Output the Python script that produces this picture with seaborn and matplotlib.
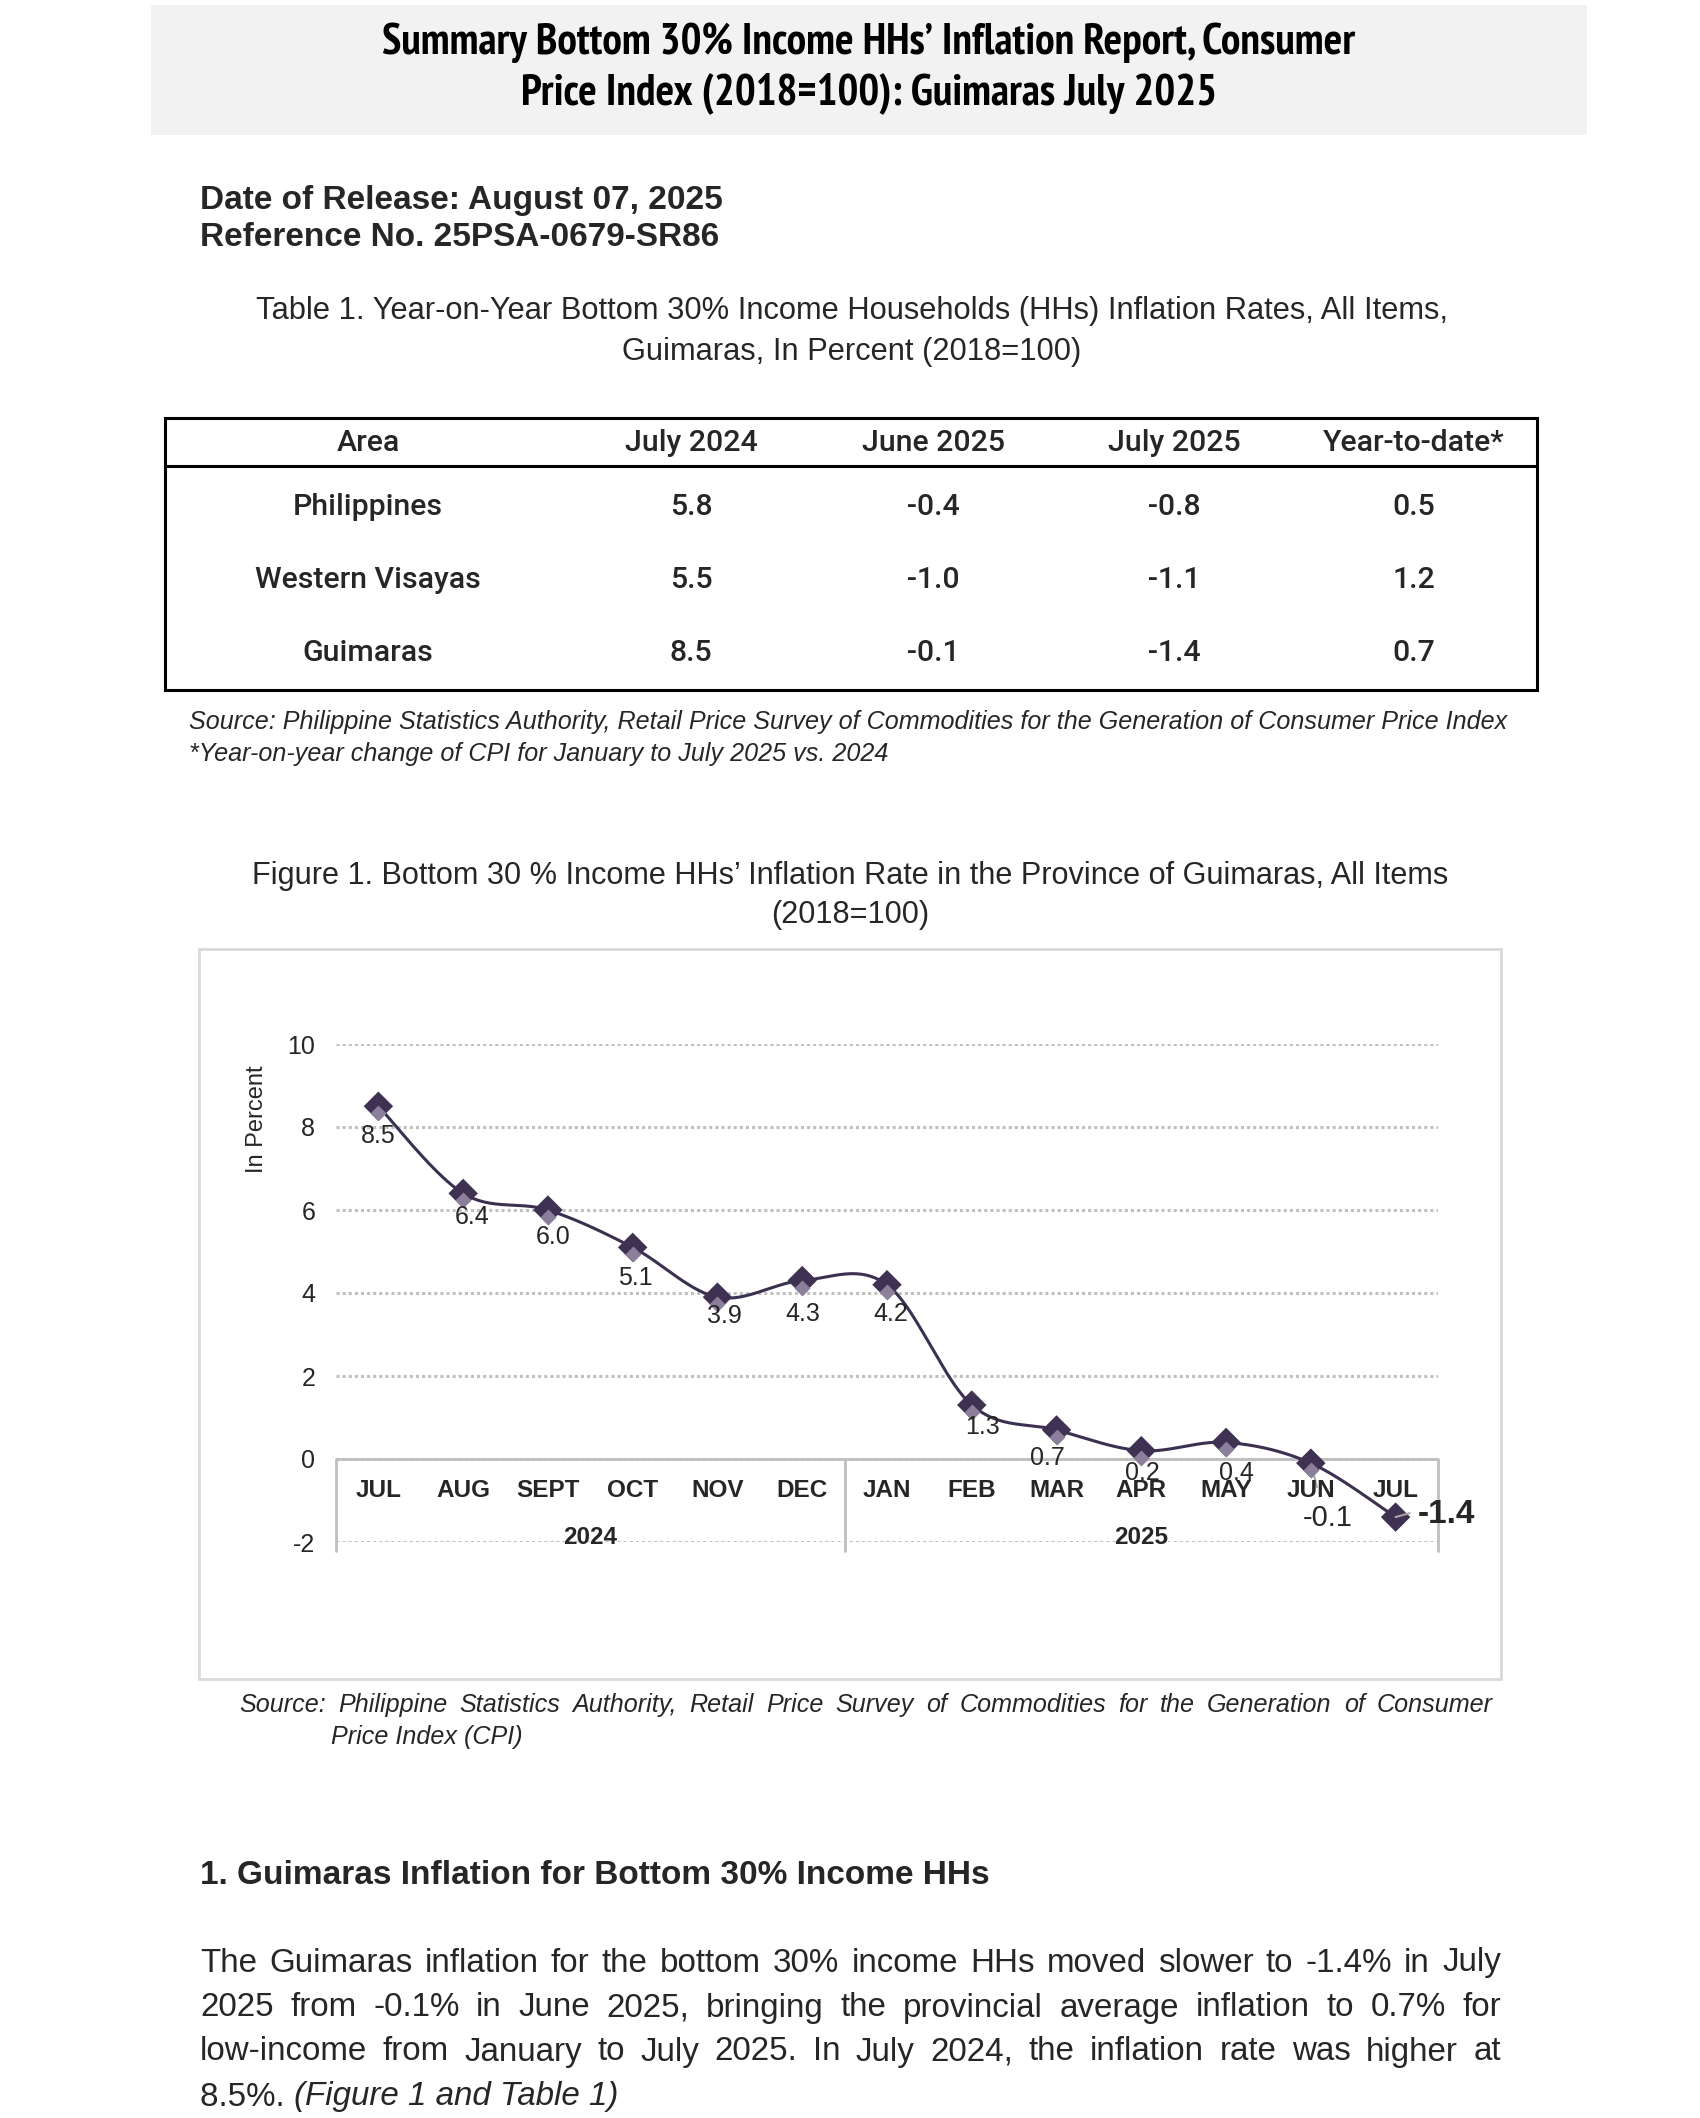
import matplotlib
matplotlib.use('Agg')
import matplotlib.pyplot as plt
from matplotlib import font_manager as fm
from matplotlib.patches import Rectangle
from matplotlib.lines import Line2D
from matplotlib.textpath import TextPath
from matplotlib.transforms import offset_copy
import seaborn as sns
import numpy as np
import pandas as pd

# ---- data ----
months = ["JUL", "AUG", "SEPT", "OCT", "NOV", "DEC",
          "JAN", "FEB", "MAR", "APR", "MAY", "JUN", "JUL"]
years = ["2024", "2025"]
months_per_year = [6, 7]
inflation = [8.5, 6.4, 6.0, 5.1, 3.9, 4.3, 4.2, 1.3, 0.7, 0.2, 0.4, -0.1, -1.4]

table_cols = ["Area", "July 2024", "June 2025", "July 2025", "Year-to-date*"]
table_areas = ["Philippines", "Western Visayas", "Guimaras"]
table_jul24 = ["5.8", "5.5", "8.5"]
table_jun25 = ["-0.4", "-1.0", "-0.1"]
table_jul25 = ["-0.8", "-1.1", "-1.4"]
table_ytd = ["0.5", "1.2", "0.7"]

title_lines = ["Summary Bottom 30% Income HHs\u2019 Inflation Report, Consumer",
               "Price Index (2018=100): Guimaras July 2025"]
table_caption = ["Table 1. Year-on-Year Bottom 30% Income Households (HHs) Inflation Rates, All Items,",
                 "Guimaras, In Percent (2018=100)"]
fig_caption = ["Figure 1. Bottom 30 % Income HHs\u2019 Inflation Rate in the Province of Guimaras, All Items",
               "(2018=100)"]
paragraph = ["The Guimaras inflation for the bottom 30% income HHs moved slower to -1.4% in July",
             "2025 from -0.1% in June 2025, bringing the provincial average inflation to 0.7% for",
             "low-income from January to July 2025. In July 2024, the inflation rate was higher at"]

sns.set_theme(style="white")
names = {f.name for f in fm.fontManager.ttflist}
BODY = "Liberation Sans" if "Liberation Sans" in names else "DejaVu Sans"
TABLE = "Roboto" if "Roboto" in names else BODY
plt.rcParams["font.family"] = [BODY, "DejaVu Sans"]


# narrow bold face for the title (Arial Narrow look), no monospace
def _w(f):
    w = f.weight
    if isinstance(w, str):
        w = fm.weight_dict.get(w, 400)
    return w


def _tw(s, prop):
    return TextPath((0, 0), s, prop=prop, size=20).get_extents().width


title_prop = fm.FontProperties(family=BODY, weight="bold")
title_cap = None
best = None
for f in fm.fontManager.ttflist:
    if "DejaVu" in f.name or "Mono" in f.name or _w(f) < 600 or f.style != "normal":
        continue
    if "Narrow" in f.name:
        rank = 0
    elif "Condensed" in f.name or str(f.stretch) in ("condensed", "semi-condensed", "extra-condensed"):
        rank = 1
    else:
        continue
    try:
        prop = fm.FontProperties(fname=f.fname)
        if abs(_tw("iiiiii", prop) - _tw("MMMMMM", prop)) < 1:
            continue
        ch = TextPath((0, 0), "H", prop=prop, size=20).get_extents().height
    except Exception:
        continue
    if best is None or rank < best[0]:
        best = (rank, f.fname, ch / 20)
if best is not None:
    title_prop = fm.FontProperties(fname=best[1])
    title_cap = best[2]

W, H = 1700, 2118
fig = plt.figure(figsize=(W / 100, H / 100), dpi=100)
fig.patch.set_facecolor("white")
renderer = fig.canvas.get_renderer()


def fx(x):
    return x / W


def fy(y):
    return 1 - y / H


def fit(text, target, **kw):
    t = fig.text(0, 0, text, fontsize=20, **kw)
    w = t.get_window_extent(renderer).width
    t.remove()
    return 20 * target / w


def justify(words, x0, x1, y, **kw):
    texts = [fig.text(0, fy(y), w, va="center", ha="left", **kw) for w in words]
    widths = [t.get_window_extent(renderer).width for t in texts]
    gap = (x1 - x0 - sum(widths)) / (len(words) - 1)
    x = x0
    for t, w in zip(texts, widths):
        t.set_x(fx(x))
        x += w + gap


# ---- title block ----
fig.add_artist(Rectangle((fx(151), fy(135)), (1587 - 151) / W, 130 / H,
                         transform=fig.transFigure, color="#f2f2f2", lw=0))
ts = fit(title_lines[0], 1098, fontproperties=title_prop)
if title_cap:
    ts = np.sqrt(ts * 27 / (100 / 72 * title_cap))
for line, y in zip(title_lines, [43, 93]):
    p = title_prop.copy()
    p.set_size(ts)
    fig.text(fx(869), fy(y), line, fontproperties=p,
             ha="center", va="center", color="black")

ds = fit("Date of Release: August 07, 2025", 522, weight="bold")
fig.text(fx(200), fy(200), "Date of Release: August 07, 2025", fontsize=ds,
         weight="bold", va="center")
fig.text(fx(200), fy(238), "Reference No. 25PSA-0679-SR86", fontsize=ds,
         weight="bold", va="center")

cs = fit(table_caption[0], 1188)
for line, y in zip(table_caption, [311, 352]):
    fig.text(fx(852), fy(y), line, fontsize=cs, ha="center", va="center")

# ---- table ----
fig.add_artist(Rectangle((fx(165), fy(690)), (1537 - 165) / W, (690 - 418) / H,
                         transform=fig.transFigure, fill=False, ec="black", lw=2.2))
fig.add_artist(Line2D([fx(165), fx(1537)], [fy(466), fy(466)],
                      transform=fig.transFigure, color="black", lw=2.2))
tfs = fit("Western Visayas", 226, family=TABLE, weight="medium")
col_x = [368, 691, 933, 1174, 1414]
for cx, head in zip(col_x, table_cols):
    fig.text(fx(cx), fy(443), head, fontsize=tfs, family=TABLE, weight="medium",
             ha="center", va="center")
cols = [table_areas, table_jul24, table_jun25, table_jul25, table_ytd]
for cx, col in zip(col_x, cols):
    for val, ry in zip(col, [507, 580, 653]):
        fig.text(fx(cx), fy(ry), val, fontsize=tfs, family=TABLE, weight="medium",
                 ha="center", va="center")

src1 = "Source: Philippine Statistics Authority, Retail Price Survey of Commodities for the Generation of Consumer Price Index"
ss = fit(src1, 1312, style="italic")
fig.text(fx(189), fy(722), src1, fontsize=ss, style="italic", va="center")
fig.text(fx(189), fy(754), "*Year-on-year change of CPI for January to July 2025 vs. 2024",
         fontsize=ss, style="italic", va="center")

fs = fit(fig_caption[0], 1195)
for line, y in zip(fig_caption, [876, 915]):
    fig.text(fx(850), fy(y), line, fontsize=fs, ha="center", va="center")

# ---- chart frame ----
fig.add_artist(Rectangle((fx(199), fy(1679)), (1501 - 199) / W, (1679 - 949) / H,
                         transform=fig.transFigure, fill=False, ec="#d9d9d9", lw=2))

ax = fig.add_axes([fx(336), fy(1542), (1438 - 336) / W, (1542 - 1044) / H])
ax.set_xlim(-0.5, len(months) - 0.5)
ax.set_ylim(-2, 10)
ax.set_yticks(range(-2, 11, 2))
ax.set_yticklabels([str(v) for v in range(-2, 11, 2)], fontsize=18)
ax.set_xticks([])
ax.tick_params(axis="y", length=0, pad=15)
for s in ax.spines.values():
    s.set_visible(False)
ax.yaxis.grid(True, color="#c0c0c0", linestyle=(0, (1, 1)), lw=2.2)
ax.set_axisbelow(True)

fig.text(fx(257), fy(1119), "In Percent", rotation=90, fontsize=17,
         ha="center", va="center")

# category axis box
xpos = np.arange(len(months))
ax.plot([-0.5, len(months) - 0.5], [0, 0], color="#bfbfbf", lw=2, zorder=1.5)
bounds = np.concatenate([[0], np.cumsum(months_per_year)]) - 0.5
for b in bounds:
    ax.plot([b, b], [0, -2.22], color="#bfbfbf", lw=2, clip_on=False, zorder=1.5)
for i, m in enumerate(months):
    ax.text(i, -0.77, m, ha="center", va="center", fontsize=17.5, weight="bold")
for yr, lo, hi in zip(years, bounds[:-1], bounds[1:]):
    ax.text((lo + hi) / 2, -1.88, yr, ha="center", va="center", fontsize=17.5, weight="bold")


# smoothed line (Catmull-Rom / Excel style)
def smooth(xs, ys, n=40):
    P = np.column_stack([xs, ys]).astype(float)
    P = np.vstack([P[0], P, P[-1]])
    out = []
    t = np.linspace(0, 1, n, endpoint=False)[:, None]
    for i in range(1, len(P) - 2):
        p0, p1, p2, p3 = P[i - 1], P[i], P[i + 1], P[i + 2]
        c1 = p1 + (p2 - p0) / 6
        c2 = p2 - (p3 - p1) / 6
        out.append((1 - t) ** 3 * p1 + 3 * (1 - t) ** 2 * t * c1
                   + 3 * (1 - t) * t ** 2 * c2 + t ** 3 * p2)
    out.append(P[-2][None])
    return np.vstack(out)


curve = pd.DataFrame(smooth(xpos, inflation), columns=["x", "y"])
sns.lineplot(data=curve, x="x", y="y", sort=False, estimator=None,
             color="#3c3050", lw=2.2, ax=ax, zorder=3)

pts = pd.DataFrame({"x": xpos, "y": inflation})
sns.scatterplot(data=pts, x="x", y="y", marker="D", s=225, color="#3f3151",
                edgecolor="none", ax=ax, zorder=4)
ax.plot(xpos[:-1], inflation[:-1], "D", ms=8.5, color="#8b7f9c", mec="none", zorder=5,
        transform=offset_copy(ax.transData, fig, x=0, y=-7, units="dots"))
ax.set_xlabel("")
ax.set_ylabel("")

# data labels (offsets in pixels from marker)
label_off = [(0, -30), (9, -24), (5, -27), (3, -31), (7, -19), (1, -33), (4, -29),
             (11, -22), (-9, -28), (1, -22), (10, -31), (17, -55)]
for i, (dx, dy) in enumerate(label_off):
    size = 21 if i == len(label_off) - 1 else 18
    ax.annotate(f"{inflation[i]:.1f}", (xpos[i], inflation[i]), xytext=(dx, dy),
                textcoords="offset pixels", ha="center", va="center", fontsize=size,
                zorder=6)
# leader line to June label
ax.annotate("", (xpos[11], inflation[11]), xytext=(6, -24), textcoords="offset pixels",
            arrowprops=dict(arrowstyle="-", color="#a6a6a6", lw=1.5, shrinkA=0, shrinkB=0),
            zorder=2)
# last point label, bold
ax.annotate("", (xpos[-1], inflation[-1]), xytext=(14, 4), textcoords="offset pixels",
            arrowprops=dict(arrowstyle="-", color="#a6a6a6", lw=1.5, shrinkA=0, shrinkB=0),
            zorder=6)
ax.annotate(f"{inflation[-1]:.1f}", (xpos[-1], inflation[-1]), xytext=(22, 3),
            textcoords="offset pixels", ha="left", va="center", fontsize=24,
            weight="bold", zorder=6, annotation_clip=False)

src2 = "Source: Philippine Statistics Authority, Retail Price Survey of Commodities for the Generation of Consumer"
justify(src2.split(" "), 239, 1493, 1705, fontsize=ss, style="italic")
fig.text(fx(331), fy(1737), "Price Index (CPI)", fontsize=ss, style="italic", va="center")

# ---- narrative ----
hs = fit("1. Guimaras Inflation for Bottom 30% Income HHs", 787, weight="bold")
fig.text(fx(200), fy(1875), "1. Guimaras Inflation for Bottom 30% Income HHs",
         fontsize=hs, weight="bold", va="center")

ps = fit("8.5%. (Figure 1 and Table 1)", 418)
for line, y in zip(paragraph, [1963, 2008, 2052]):
    justify(line.split(" "), 200, 1501, y, fontsize=ps)
t1 = fig.text(fx(200), fy(2097), "8.5%. ", fontsize=ps, va="center")
w1 = t1.get_window_extent(renderer).width
fig.text(fx(200 + w1), fy(2097), "(Figure 1 and Table 1)", fontsize=ps,
         style="italic", va="center")

fig.savefig("out.png", dpi=100, facecolor="white")
